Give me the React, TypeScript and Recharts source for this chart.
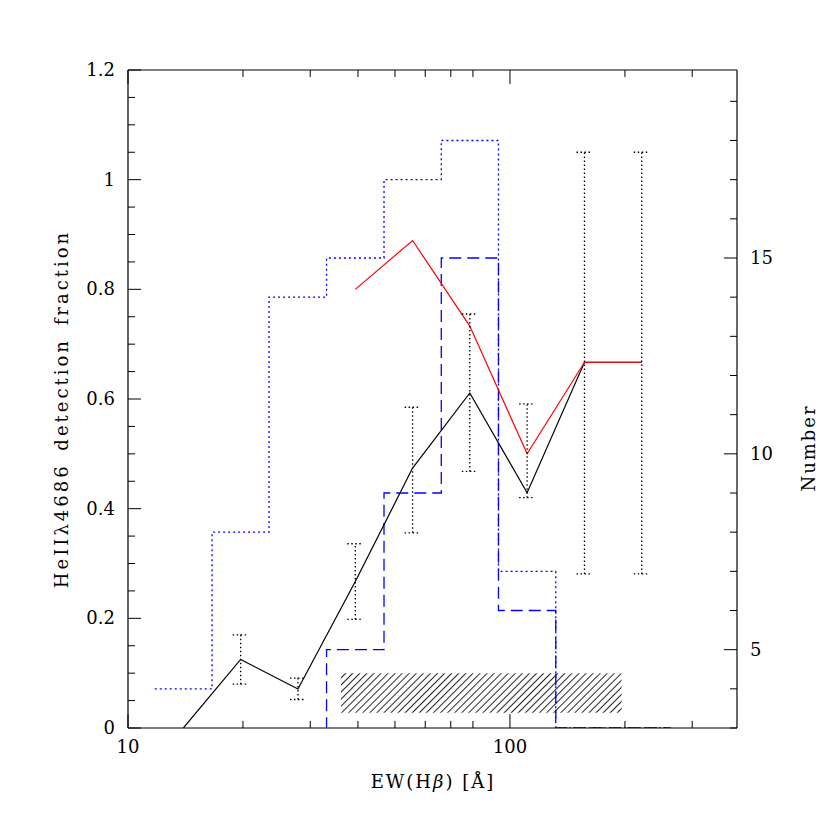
import React from "react";
import {
  ComposedChart,
  Line,
  Scatter,
  XAxis,
  YAxis,
  ErrorBar,
  ReferenceArea,
} from "recharts";

// bins in log EW(Hb), 0.15 dex wide
const binEdges = [11.75, 16.6, 23.4, 33.1, 46.8, 66.1, 93.3, 131.8, 186.2, 263.0];
const binCenters = [13.96, 19.72, 27.86, 39.36, 55.6, 78.5, 110.9, 156.7, 221.3];

// counts per bin (right axis)
const numAll = [4, 8, 14, 15, 17, 18, 7, 3, 3];
const numSub = [0, 0, 0, 5, 9, 15, 6, 3, 3];

// HeII detection fraction (left axis)
const fracAll = [0, 0.125, 0.071, 0.267, 0.474, 0.611, 0.429, 0.667, 0.667];
const fracSub = [null, null, null, 0.8, 0.889, 0.733, 0.5, 0.667, 0.667];
const fracLow = [null, 0.08, 0.052, 0.198, 0.356, 0.468, 0.42, 0.281, 0.281];
const fracHigh = [null, 0.17, 0.091, 0.336, 0.585, 0.755, 0.591, 1.05, 1.05];

// hatched range
const hatchX = [36.1, 196];
const hatchY = [0.028, 0.1];

const xTicks = [10, 20, 30, 40, 50, 60, 70, 80, 90, 100, 200, 300];
const xMajor = [10, 100];
const leftTicks = [
  0, 0.05, 0.1, 0.15, 0.2, 0.25, 0.3, 0.35, 0.4, 0.45, 0.5, 0.55, 0.6, 0.65,
  0.7, 0.75, 0.8, 0.85, 0.9, 0.95, 1, 1.05, 1.1, 1.15, 1.2,
];
const leftMajor = [0, 0.2, 0.4, 0.6, 0.8, 1, 1.2];
const rightTicks = [3, 4, 5, 6, 7, 8, 9, 10, 11, 12, 13, 14, 15, 16, 17, 18, 19];
const rightMajor = [5, 10, 15];

const FONT = "'DejaVu Serif', serif";

const histAll = binEdges.map((x, i) => ({ x, n: numAll[Math.min(i, numAll.length - 1)] }));
const histSub = binEdges.map((x, i) => ({ x, n: numSub[Math.min(i, numSub.length - 1)] }));
const lineAll = binCenters.map((x, i) => ({ x, f: fracAll[i] }));
const lineSub = binCenters
  .map((x, i) => ({ x, f: fracSub[i] }))
  .filter((d) => d.f !== null);
const errPts = binCenters
  .map((x, i) => ({
    x,
    f: fracAll[i],
    err: fracLow[i] === null ? null : [fracAll[i] - (fracLow[i] as number), (fracHigh[i] as number) - fracAll[i]],
  }))
  .filter((d) => d.err !== null);

const isIn = (arr: number[], v: number) => arr.some((a) => Math.abs(a - v) < 1e-6);

const BottomTick = (props: any) => {
  const { x, y, payload } = props;
  const major = isIn(xMajor, payload.value);
  return (
    <g>
      <line x1={x} x2={x} y1={y} y2={y - (major ? 14 : 7)} stroke="#000" />
      {major && (
        <text x={x} y={y + 25} textAnchor="middle" fontFamily={FONT} fontSize={18} fill="#000">
          {payload.value}
        </text>
      )}
    </g>
  );
};

const TopTick = (props: any) => {
  const { x, y, payload } = props;
  const major = isIn(xMajor, payload.value);
  return <line x1={x} x2={x} y1={y} y2={y + (major ? 14 : 7)} stroke="#000" />;
};

const LeftTick = (props: any) => {
  const { x, y, payload } = props;
  const major = isIn(leftMajor, payload.value);
  return (
    <g>
      <line x1={x} x2={x + (major ? 13 : 7)} y1={y} y2={y} stroke="#000" />
      {major && (
        <text x={x - 13} y={y + 6} textAnchor="end" fontFamily={FONT} fontSize={18} fill="#000">
          {String(payload.value)}
        </text>
      )}
    </g>
  );
};

const RightTick = (props: any) => {
  const { x, y, payload } = props;
  const major = isIn(rightMajor, payload.value);
  return (
    <g>
      <line x1={x} x2={x - (major ? 13 : 7)} y1={y} y2={y} stroke="#000" />
      {major && (
        <text x={x + 13} y={y + 6} textAnchor="start" fontFamily={FONT} fontSize={18} fill="#000">
          {payload.value}
        </text>
      )}
    </g>
  );
};

export default function App() {
  return (
    <div style={{ position: "absolute", left: 0, top: 0, background: "#fff" }}>
      <ComposedChart
        width={830}
        height={830}
        margin={{ top: 60, right: 53, bottom: 72, left: 88 }}
      >
        <defs>
          <pattern id="hatch" patternUnits="userSpaceOnUse" width="5" height="5" patternTransform="rotate(45)">
            <line x1="0" y1="0" x2="0" y2="5" stroke="#000" strokeWidth="1.7" />
          </pattern>
        </defs>
        <XAxis
          dataKey="x"
          type="number"
          scale="log"
          domain={[10, 393]}
          allowDataOverflow
          ticks={xTicks}
          height={30}
          tickSize={0}
          tickMargin={0}
          tickLine={false}
          tick={<BottomTick />}
          axisLine={{ stroke: "#000", strokeWidth: 1.2 }}
        />
        <XAxis
          xAxisId="top"
          orientation="top"
          dataKey="x"
          type="number"
          scale="log"
          domain={[10, 393]}
          allowDataOverflow
          ticks={xTicks}
          height={10}
          tickSize={0}
          tickMargin={0}
          tickLine={false}
          tick={<TopTick />}
          axisLine={{ stroke: "#000", strokeWidth: 1.2 }}
        />
        <YAxis
          yAxisId="left"
          type="number"
          domain={[0, 1.2]}
          allowDataOverflow
          ticks={leftTicks}
          width={40}
          tickSize={0}
          tickMargin={0}
          tickLine={false}
          tick={<LeftTick />}
          axisLine={{ stroke: "#000", strokeWidth: 1.2 }}
        />
        <YAxis
          yAxisId="right"
          orientation="right"
          type="number"
          domain={[3, 19.8]}
          allowDataOverflow
          ticks={rightTicks}
          width={40}
          tickSize={0}
          tickMargin={0}
          tickLine={false}
          tick={<RightTick />}
          axisLine={{ stroke: "#000", strokeWidth: 1.2 }}
        />

        <ReferenceArea
          yAxisId="left"
          x1={hatchX[0]}
          x2={hatchX[1]}
          y1={hatchY[0]}
          y2={hatchY[1]}
          fill="url(#hatch)"
          fillOpacity={1}
          stroke="none"
        />

        <Line
          data={histAll}
          yAxisId="right"
          dataKey="n"
          type="stepAfter"
          stroke="#0000ff"
          strokeWidth={1.3}
          strokeDasharray="2 3"
          dot={false}
          isAnimationActive={false}
        />
        <Line
          data={histSub}
          yAxisId="right"
          dataKey="n"
          type="stepAfter"
          stroke="#0000ff"
          strokeWidth={1.3}
          strokeDasharray="12 6"
          dot={false}
          isAnimationActive={false}
        />
        <Line
          data={lineAll}
          yAxisId="left"
          dataKey="f"
          type="linear"
          stroke="#000"
          strokeWidth={1.2}
          dot={false}
          isAnimationActive={false}
        />
        <Line
          data={lineSub}
          yAxisId="left"
          dataKey="f"
          type="linear"
          stroke="#ff0000"
          strokeWidth={1.2}
          dot={false}
          isAnimationActive={false}
        />
        <Scatter
          data={errPts}
          yAxisId="left"
          dataKey="f"
          shape={() => <g />}
          isAnimationActive={false}
        >
          <ErrorBar
            dataKey="err"
            direction="y"
            width={8}
            stroke="#000"
            strokeWidth={1.3}
            strokeDasharray="1.5 2.5"
            isAnimationActive={false}
          />
        </Scatter>

        <text
          x={433}
          y={788}
          textAnchor="middle"
          fontFamily={FONT}
          fontSize={18}
          letterSpacing={2}
          fill="#000"
        >
          EW(H<tspan fontStyle="italic">β</tspan>) [Å]
        </text>
        <text
          x={68}
          y={409}
          textAnchor="middle"
          transform="rotate(-90 68 409)"
          fontFamily={FONT}
          fontSize={18}
          letterSpacing={3}
          wordSpacing={4}
          fill="#000"
        >
          HeIIλ4686 detection fraction
        </text>
        <text
          x={815}
          y={448}
          textAnchor="middle"
          transform="rotate(-90 815 448)"
          fontFamily={FONT}
          fontSize={18}
          letterSpacing={2}
          fill="#000"
        >
          Number
        </text>
      </ComposedChart>
    </div>
  );
}
